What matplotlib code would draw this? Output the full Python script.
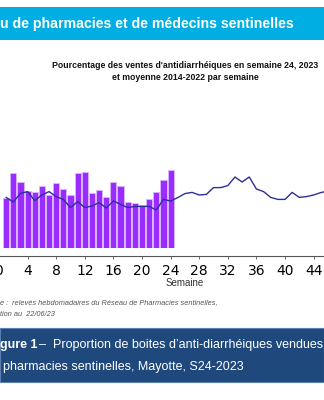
import numpy as np
import matplotlib.pyplot as plt
from matplotlib.patches import Rectangle

# ventes hebdomadaires 2023 (semaines 1 a 24), en %
semaines_2023 = np.arange(1, 25)
ventes_2023 = [2.52, 3.77, 3.28, 2.85, 2.80, 3.10, 2.67, 3.23, 2.95, 2.67, 3.77, 3.82,
               2.77, 2.90, 2.57, 3.28, 3.08, 2.32, 2.27, 2.17, 2.45, 2.80, 3.38, 3.92]

# moyenne 2014-2022 par semaine
semaines_moy = np.arange(1, 47)
moyenne = [2.53, 2.30, 2.73, 2.82, 2.37, 2.65, 2.82, 2.57, 2.43, 2.02, 2.32, 2.02,
           2.10, 2.27, 2.00, 2.35, 2.18, 2.02, 2.08, 2.08, 2.08, 1.90, 2.43, 2.35,
           2.52, 2.72, 2.78, 2.65, 2.68, 3.02, 3.02, 3.12, 3.55, 3.30, 3.55, 2.95,
           2.82, 2.53, 2.43, 2.43, 2.78, 2.53, 2.57, 2.65, 2.77, 2.85]

ticks = np.arange(0, 48, 4)

W, H = 324, 400
fig = plt.figure(figsize=(3.24, 4.0), dpi=100)
fig.patch.set_facecolor('white')

def fx(px):
    return px / W

def fy(py):
    return 1 - py / H

arial = ['Liberation Sans', 'DejaVu Sans']

# bandeau du haut
fig.patches.append(Rectangle((0, fy(40)), 1, fy(7) - fy(40), transform=fig.transFigure,
                             facecolor='#00aee3', edgecolor='none'))
fig.text(fx(0), fy(24), 'u de pharmacies et de médecins sentinelles', color='white',
         fontsize=10.2, fontweight='bold', family=arial, va='center', ha='left')

# titre du graphique
fig.text(fx(185), fy(65), "Pourcentage des ventes d'antidiarrhéiques en semaine 24, 2023",
         fontsize=6.3, fontweight='bold', family=arial, ha='center', va='center', color='#111111')
fig.text(fx(185), fy(77), 'et moyenne 2014-2022 par semaine',
         fontsize=6.3, fontweight='bold', family=arial, ha='center', va='center', color='#111111')

# graphique
left_px = -10
x0 = (left_px + 1) / 7.15
x1 = (W + 1) / 7.15
ax = fig.add_axes([fx(left_px), fy(248), fx(W - left_px), fy(148) - fy(248)])
ax.bar(semaines_2023, ventes_2023, width=0.86, color='#9a2cff', edgecolor='#d9b8ff',
       linewidth=0.6, zorder=2)
ax.plot(semaines_moy, moyenne, color='#2e2e9a', linewidth=1.0, zorder=3)
ax.set_xlim(x0, x1)
ax.set_ylim(0, 5)
ax.set_xticks(ticks)
ax.set_xticklabels([str(t) for t in ticks], family=arial, fontsize=6.8, color='#333333')
ax.set_yticks([])
for s in ['top', 'right', 'left']:
    ax.spines[s].set_visible(False)
ax.spines['bottom'].set_position(('outward', 6))
ax.spines['bottom'].set_color('#555555')
ax.spines['bottom'].set_linewidth(0.8)
ax.tick_params(axis='x', direction='out', length=2.5, width=0.6, color='#555555', pad=3)
ax.patch.set_visible(False)

fig.text(fx(185), fy(283), 'Semaine', family=arial, fontsize=7, ha='center', va='center',
         color='#333333')

# source
fig.text(fx(0), fy(303), 'e :  relevés hebdomadaires du Réseau de Pharmacies sentinelles,',
         family=arial, fontsize=5.3, style='italic', color='#555555', ha='left', va='center')
fig.text(fx(0), fy(315), 'tion au  22/06/23',
         family=arial, fontsize=5.3, style='italic', color='#555555', ha='left', va='center')

# legende de la figure
fig.patches.append(Rectangle((0, fy(382)), 1, fy(328) - fy(382), transform=fig.transFigure,
                             facecolor='#1f497d', edgecolor='#5b7fb0', linewidth=0.8))
fig.text(fx(0), fy(345), 'gure 1', color='white', fontsize=9.0, fontweight='bold',
         family=arial, ha='left', va='center')
fig.text(fx(39), fy(345), "–  Proportion de boites d’anti-diarrhéiques vendues", color='white',
         fontsize=9.0, family=arial, ha='left', va='center')
fig.text(fx(3), fy(367), 'pharmacies sentinelles, Mayotte, S24-2023', color='white',
         fontsize=9.0, family=arial, ha='left', va='center')

fig.savefig('out.png', dpi=100)
